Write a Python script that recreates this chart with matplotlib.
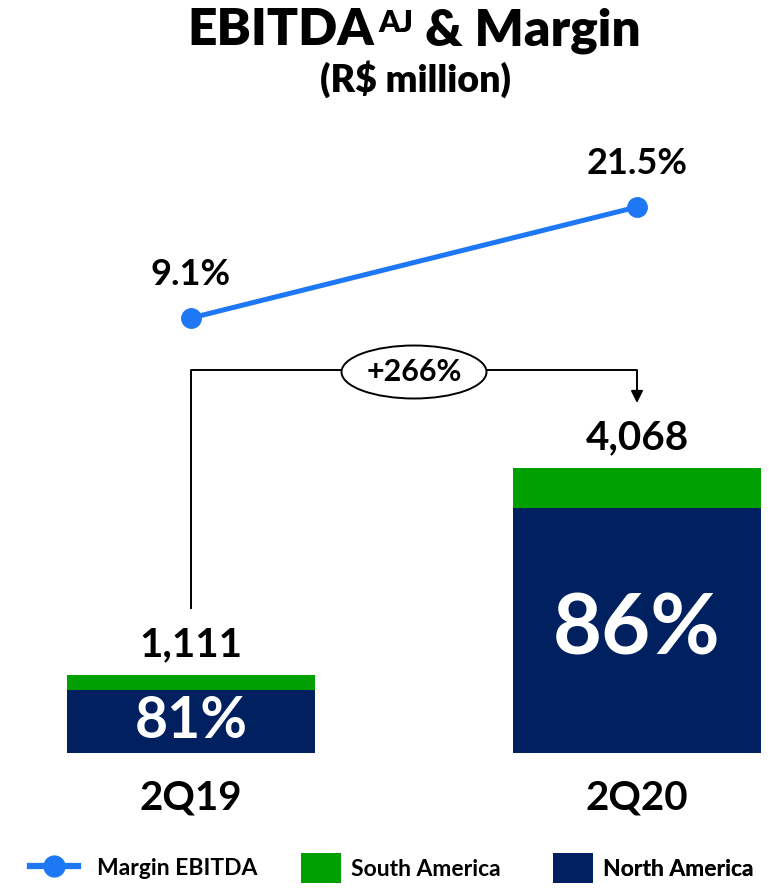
import matplotlib
matplotlib.use("Agg")
import matplotlib.pyplot as plt
from matplotlib.lines import Line2D
from matplotlib.patches import Patch, Ellipse

plt.rcParams['font.family'] = ['Lato', 'DejaVu Sans']
plt.rcParams['font.weight'] = 'bold'

# dados
periods = ["2Q19", "2Q20"]
ebitda_total = [1111, 4068]          # R$ milhoes
north_america_share = [81, 86]       # % do EBITDA
margin = [9.1, 21.5]                 # margem EBITDA %
growth = "+266%"
legend_labels = ["Margin EBITDA", "South America", "North America"]

NAVY = "#002060"
GREEN = "#00A000"
BLUE = "#1E78F5"

W, H = 775, 888
fig = plt.figure(figsize=(W / 100, H / 100), dpi=100)


def fx(x):
    return x / W


def fy(y):
    return 1 - y / H


# eixo das barras ocupa a figura toda, escala fixa em pixels
ax = fig.add_axes([0, 0, 1, 1])
ax.set_axis_off()
c0, unit = 191, 446
ax.set_xlim(-c0 / unit, 1 + (W - c0 - unit) / unit)
base = H - 753
scale = 285 / ebitda_total[1]
ax.set_ylim(-base / scale, (H - base) / scale)

x = [0, 1]
na = [t * s / 100 for t, s in zip(ebitda_total, north_america_share)]
sa = [t - n for t, n in zip(ebitda_total, na)]
ax.bar(x, na, width=0.558, color=NAVY, zorder=2)
ax.bar(x, sa, bottom=na, width=0.558, color=GREEN, zorder=2)

for i in x:
    ax.annotate(f"{ebitda_total[i]:,}", xy=(i, ebitda_total[i]), xytext=(0, 19),
                textcoords='offset pixels', ha='center', va='baseline',
                fontsize=29, color='black')
    ax.annotate(periods[i], xy=(i, 0), xytext=(0, -56),
                textcoords='offset pixels', ha='center', va='baseline',
                fontsize=29, color='black')
ax.text(0, na[0] / 2, f"{north_america_share[0]}%", ha='center', va='center',
        fontsize=41, color='white', zorder=3)
ax.text(1, na[1] / 2, f"{north_america_share[1]}%", ha='center', va='center',
        fontsize=61, color='white', zorder=3)

# linha da margem em eixo proprio
ax2 = ax.twinx()
ax2.set_axis_off()
m_scale = 111 / (margin[1] - margin[0])
m_base = H - 318
ax2.set_ylim(margin[0] - m_base / m_scale, margin[0] + (H - m_base) / m_scale)
ax2.plot(x, margin, color=BLUE, lw=3.6, marker='o', ms=14, zorder=3)
for i in x:
    ax2.annotate(f"{margin[i]}%", xy=(i, margin[i]), xytext=(0, 33),
                 textcoords='offset pixels', ha='center', va='baseline',
                 fontsize=26, color='black')

# conector de crescimento
ax.plot([fx(191), fx(191), fx(637), fx(637)], [fy(608), fy(370), fy(370), fy(390)],
        transform=fig.transFigure, color='black', lw=1.4, zorder=4)
ax.annotate("", xy=(fx(637), fy(403)), xytext=(fx(637), fy(385)),
            xycoords='figure fraction', textcoords='figure fraction',
            arrowprops=dict(arrowstyle='-|>', color='black', lw=1.4,
                            mutation_scale=18, shrinkA=0, shrinkB=0))
ell = Ellipse((fx(414), fy(372)), 145 / W, 53 / H, transform=fig.transFigure,
              facecolor='white', edgecolor='black', lw=1.4, zorder=5)
fig.add_artist(ell)
fig.text(fx(414), fy(372), growth, ha='center', va='center', fontsize=22,
         color='black', zorder=6)

# titulo com sobrescrito
r = fig.canvas.get_renderer()
t1 = fig.text(0, fy(45), "EBITDA", fontsize=37, fontweight='heavy', va='baseline')
t2 = fig.text(0, fy(32), "AJ", fontsize=22, fontweight='heavy', va='baseline')
t3 = fig.text(0, fy(45), "& Margin", fontsize=37, fontweight='heavy', va='baseline')
gaps = [4, 12]
ws = [t.get_window_extent(r).width for t in (t1, t2, t3)]
start = 414 - (sum(ws) + sum(gaps)) / 2
t1.set_x(fx(start))
t2.set_x(fx(start + ws[0] + gaps[0]))
t3.set_x(fx(start + ws[0] + gaps[0] + ws[1] + gaps[1]))
fig.text(fx(415), fy(92), "(R$ million)", ha='center', va='baseline',
         fontsize=27, fontweight='heavy')

# legenda: uma entrada por bloco, posicionadas lado a lado
fs = 16.5
em = fs * 100 / 72
entries = [
    (Line2D([], [], color=BLUE, lw=4.5, marker='o', ms=15), 30, 48, 20, 19),
    (Patch(facecolor=GREEN), 301, 40, 36, 10),
    (Patch(facecolor=NAVY), 553, 40, 36, 10),
]
for (h, x0, hl, hh, pad), lab in zip(entries, legend_labels):
    leg = ax.legend([h], [lab], loc='center left', bbox_to_anchor=(fx(x0), fy(868)),
                    bbox_transform=fig.transFigure, frameon=False, fontsize=fs,
                    handlelength=hl / em, handleheight=hh / em,
                    handletextpad=pad / em, borderpad=0, borderaxespad=0)
    ax.add_artist(leg)

fig.savefig("out.png", dpi=100)
